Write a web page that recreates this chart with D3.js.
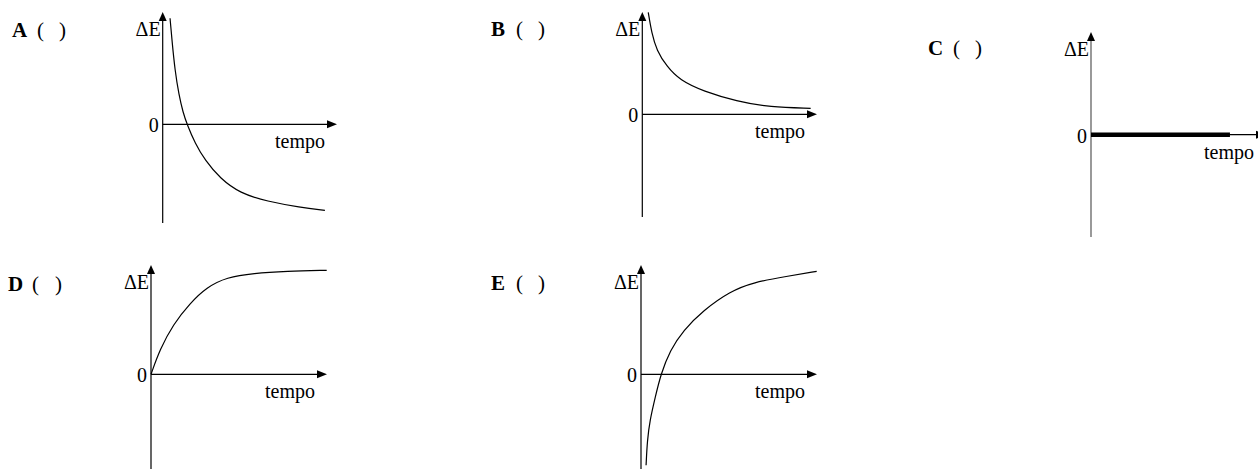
<!DOCTYPE html>
<html>
<head>
<meta charset="utf-8">
<script src="https://cdn.jsdelivr.net/npm/d3@7"></script>
<style>
  body { margin: 0; background: #fff; }
  svg { display: block; }
</style>
</head>
<body>
<div id="chart"></div>
<script>
// panel letters
var panelNames = ["A", "B", "C", "D", "E"];

// curves, time (0..10) vs ΔE (-1..1)
var timeA = [0.42, 0.53, 0.70, 0.93, 1.16, 1.39, 1.85, 2.42, 3.27, 4.42, 5.96, 7.85, 9.27];
var energyA = [1.06, 0.84, 0.54, 0.29, 0.12, 0.0, -0.19, -0.36, -0.54, -0.69, -0.77, -0.83, -0.86];

var timeB = [0.34, 0.54, 0.82, 1.39, 2.15, 3.49, 5.39, 7.30, 9.62];
var energyB = [1.02, 0.81, 0.64, 0.48, 0.34, 0.23, 0.13, 0.07, 0.06];

var timeC = [0, 7.94];
var energyC = [0, 0];

var timeD = [0, 0.51, 1.27, 2.23, 3.18, 4.33, 5.85, 7.75, 10.04];
var energyD = [0, 0.25, 0.50, 0.71, 0.87, 0.97, 1.01, 1.03, 1.04];

var timeE = [0.29, 0.36, 0.51, 0.80, 1.13, 1.66, 2.42, 3.56, 5.09, 6.42, 8.33, 10.04];
var energyE = [-0.91, -0.66, -0.46, -0.24, 0, 0.24, 0.44, 0.64, 0.83, 0.92, 0.98, 1.03];

var axisLabelY = "ΔE", axisLabelX = "tempo", zeroLabel = "0";

var serif = "'Liberation Serif', 'Times New Roman', serif";

// layout of the five small graphs (pixel positions)
var layout = {
  A: {ox: 162.7, oy: 124.3, top: 12, bottom: 223, right: 337, lx: 12, lp1: 37, lp2: 59, ly: 37, t: timeA, e: energyA},
  B: {ox: 642.3, oy: 114.3, top: 12, bottom: 217, right: 817, lx: 491, lp1: 516, lp2: 538, ly: 36, t: timeB, e: energyB},
  C: {ox: 1091, oy: 134.7, top: 32, bottom: 237, right: 1266, lx: 928, lp1: 953, lp2: 975, ly: 55, t: timeC, e: energyC, thick: true, grey: true, tempoEnd: 1254},
  D: {ox: 151, oy: 374.3, top: 265, bottom: 472, right: 327, lx: 8, lp1: 32, lp2: 55, ly: 291, t: timeD, e: energyD},
  E: {ox: 641, oy: 374.3, top: 265, bottom: 472, right: 817, lx: 491, lp1: 516, lp2: 538, ly: 290, t: timeE, e: energyE}
};

var width = 1258, height = 469;

var svg = d3.select("#chart")
  .append("svg")
    .attr("width", width)
    .attr("height", height)
    .style("font-family", serif);

for (var name of panelNames) {
  var p = layout[name];
  var g = svg.append("g");

  // scales: 10 time units over 175px, 1 energy unit = 100px
  var x = d3.scaleLinear().domain([0, 10]).range([p.ox, p.ox + 175]);
  var y = d3.scaleLinear().domain([-1, 1]).range([p.oy + 100, p.oy - 100]);

  // y axis
  g.append("line")
    .attr("x1", x(0)).attr("x2", x(0))
    .attr("y1", p.bottom).attr("y2", p.top + 6)
    .attr("stroke", p.grey ? "#808080" : "#000")
    .attr("stroke-width", p.grey ? 1.6 : 1.2);
  g.append("path")
    .attr("d", "M" + x(0) + "," + p.top + " l-4,9 l8,0 z")
    .attr("fill", "#000");

  // x axis
  g.append("line")
    .attr("x1", x(0)).attr("x2", p.right - 6)
    .attr("y1", y(0)).attr("y2", y(0))
    .attr("stroke", "#000")
    .attr("stroke-width", 1.2);
  g.append("path")
    .attr("d", "M" + p.right + "," + y(0) + " l-10,-4 l0,8 z")
    .attr("fill", "#000");

  // curve
  var pts = p.t.map(function(t, i) { return [t, p.e[i]]; });
  var line = d3.line()
    .x(function(d) { return x(d[0]); })
    .y(function(d) { return y(d[1]); })
    .curve(p.thick ? d3.curveLinear : d3.curveBasis);
  g.append("path")
    .datum(pts)
    .attr("d", line)
    .attr("fill", "none")
    .attr("stroke", "#000")
    .attr("stroke-width", p.thick ? 4.6 : 1.2);

  // axis texts
  g.append("text")
    .attr("x", x(0) - 2).attr("y", p.top + 24)
    .attr("text-anchor", "end")
    .style("font-size", "20px")
    .text(axisLabelY);
  g.append("text")
    .attr("x", x(0) - 4).attr("y", y(0) + 8)
    .attr("text-anchor", "end")
    .style("font-size", "20px")
    .text(zeroLabel);
  g.append("text")
    .attr("x", p.tempoEnd || (p.right - 12)).attr("y", y(0) + 24)
    .attr("text-anchor", "end")
    .style("font-size", "20px")
    .text(axisLabelX);

  // panel label "X (  )"
  var lab = g.append("text").attr("y", p.ly)
    .style("font-size", "21px");
  lab.append("tspan").attr("x", p.lx).style("font-weight", "bold").text(name);
  lab.append("tspan").attr("x", p.lp1).text("(");
  lab.append("tspan").attr("x", p.lp2).text(")");
}
</script>
</body>
</html>
